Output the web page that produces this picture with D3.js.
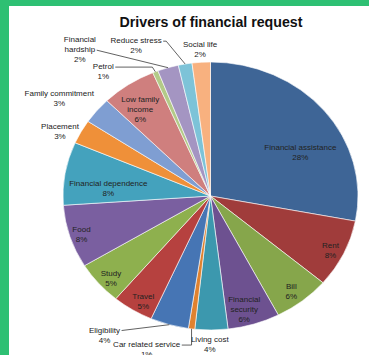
<!DOCTYPE html>
<html>
<head>
<meta charset="utf-8">
<script src="https://cdn.jsdelivr.net/npm/d3@7"></script>
<style>
  body { margin: 0; background: #fff; }
  svg { display: block; }
  text { font-family: "Liberation Sans", Arial, sans-serif; }
</style>
</head>
<body>
<svg id="chart" width="369" height="355"></svg>
<script>
// Drivers of financial request (share of responses, %)
const categories = [
  "Financial assistance", "Rent", "Bill", "Financial security", "Living cost",
  "Car related service", "Eligibility", "Travel", "Study", "Food",
  "Financial dependence", "Placement", "Family commitment", "Low family income",
  "Petrol", "Financial hardship", "Reduce stress", "Social life"
];
const shares = [28.0, 8.2, 6.2, 5.7, 3.6, 0.7, 4.2, 4.5, 5.2, 7.6, 7.6, 2.9, 3.2, 6.0, 0.6, 2.3, 1.5, 2.0];
const sliceColors = [
  "#3e6596", "#a03c3b", "#86a64b", "#6d5190", "#3c98ae",
  "#df822f", "#4675b4", "#b6413f", "#8eb04e", "#7a5fa0",
  "#44a2bd", "#ef9039", "#7f9ed2", "#cf7f7e", "#b3ca88",
  "#a495c2", "#7dc3d8", "#f8b17f"
];

// Names that wrap onto two lines
const labelLines = {
  "Financial security": ["Financial", "security"],
  "Low family income": ["Low family", "income"],
  "Financial hardship": ["Financial", "hardship"]
};

// Label layout: radius as a fraction of the pie radius, angle shift (deg), leader style
const labelPlacement = [
  { r: 0.69, da: 11.6 }, { r: 0.91, da: 1.1 }, { r: 0.90, da: 1 }, { r: 0.877, da: 2 },
  { r: 1.11, da: 0.6 }, { r: 1.225, da: 13.3, leader: "corner" }, { r: 1.262, da: 18.5, leader: "straight" },
  { r: 0.907, da: -1.7 }, { r: 0.912, da: -1.6 }, { r: 0.92, da: -0.4 }, { r: 0.695, da: -5 },
  { r: 1.13, da: -3.2 }, { r: 1.258, da: -4.2 }, { r: 0.80, da: -2.7 },
  { r: 1.179, da: -16.1, leader: "near" }, { r: 1.406, da: -22.3, leader: "straight" },
  { r: 1.23, da: -14.3, leader: "tick" }, { r: 1.097, da: -0.1 }
];

const svg = d3.select("#chart");
const W = 369, H = 355;

// page frame
svg.append("rect").attr("x", 0).attr("y", 0).attr("width", W).attr("height", H).attr("fill", "#fff");
svg.append("rect").attr("x", 0).attr("y", 0).attr("width", W).attr("height", 6).attr("fill", "#2ec073");
svg.append("rect").attr("x", 0).attr("y", 0).attr("width", 9).attr("height", H).attr("fill", "#2ec073");

// title
svg.append("text")
  .attr("x", 211).attr("y", 27)
  .attr("text-anchor", "middle")
  .attr("font-size", 14.2).attr("font-weight", "bold").attr("fill", "#111")
  .text("Drivers of financial request");

// pie geometry (slightly wider than tall)
const cx = 210.5, cy = 196, rx = 147.5, ry = 134;

const pie = d3.pie().sort(null).value(d => d)(shares);
const arc = d3.arc().innerRadius(0).outerRadius(ry);

const pieG = svg.append("g")
  .attr("transform", `translate(${cx},${cy}) scale(${rx / ry},1)`);

pieG.selectAll("path")
  .data(pie)
  .join("path")
  .attr("d", arc)
  .attr("fill", (d, i) => sliceColors[i])
  .attr("stroke", "#ffffff")
  .attr("stroke-width", 0.6)
  .attr("vector-effect", "non-scaling-stroke");

// position on the ellipse for angle a (radians, clockwise from top) and radius fraction f
const toXY = (a, f) => [cx + rx * f * Math.sin(a), cy - ry * f * Math.cos(a)];

const lineH = 10;
const labelG = svg.append("g").attr("font-size", 8).attr("fill", "#222");
const leaderG = svg.append("g").attr("fill", "none").attr("stroke", "#3a3a3a").attr("stroke-width", 0.8);

pie.forEach((d, i) => {
  const name = categories[i];
  const place = labelPlacement[i];
  const mid = (d.startAngle + d.endAngle) / 2;
  const [lx, ly] = toXY(mid + place.da * Math.PI / 180, place.r);
  const lines = (labelLines[name] || [name]).concat([Math.round(d.value) + "%"]);
  const top = ly - (lines.length - 1) * lineH / 2;

  const nodes = lines.map((t, k) =>
    labelG.append("text")
      .attr("x", lx).attr("y", top + k * lineH)
      .attr("text-anchor", "middle")
      .attr("dominant-baseline", "central")
      .text(t)
  );

  if (place.leader) {
    const k = lines.length - 2; // last line of the name
    const w = nodes[k].node().getComputedTextLength();
    const sx = lx + w / 2 + 1.5, sy = top + k * lineH + 0.5;
    const [ex, ey] = toXY(mid, 1);
    let pts;
    if (place.leader === "corner") pts = [[sx, sy], [ex, sy], [ex, ey]];
    else if (place.leader === "near") pts = [[sx, sy], [ex - 3, sy], [ex, ey]];
    else if (place.leader === "tick") pts = [[sx, sy], [sx + 3, sy], [ex, ey]];
    else pts = [[sx, sy], [ex, ey]];
    leaderG.append("path").attr("d", d3.line()(pts));
  }
});
</script>
</body>
</html>
